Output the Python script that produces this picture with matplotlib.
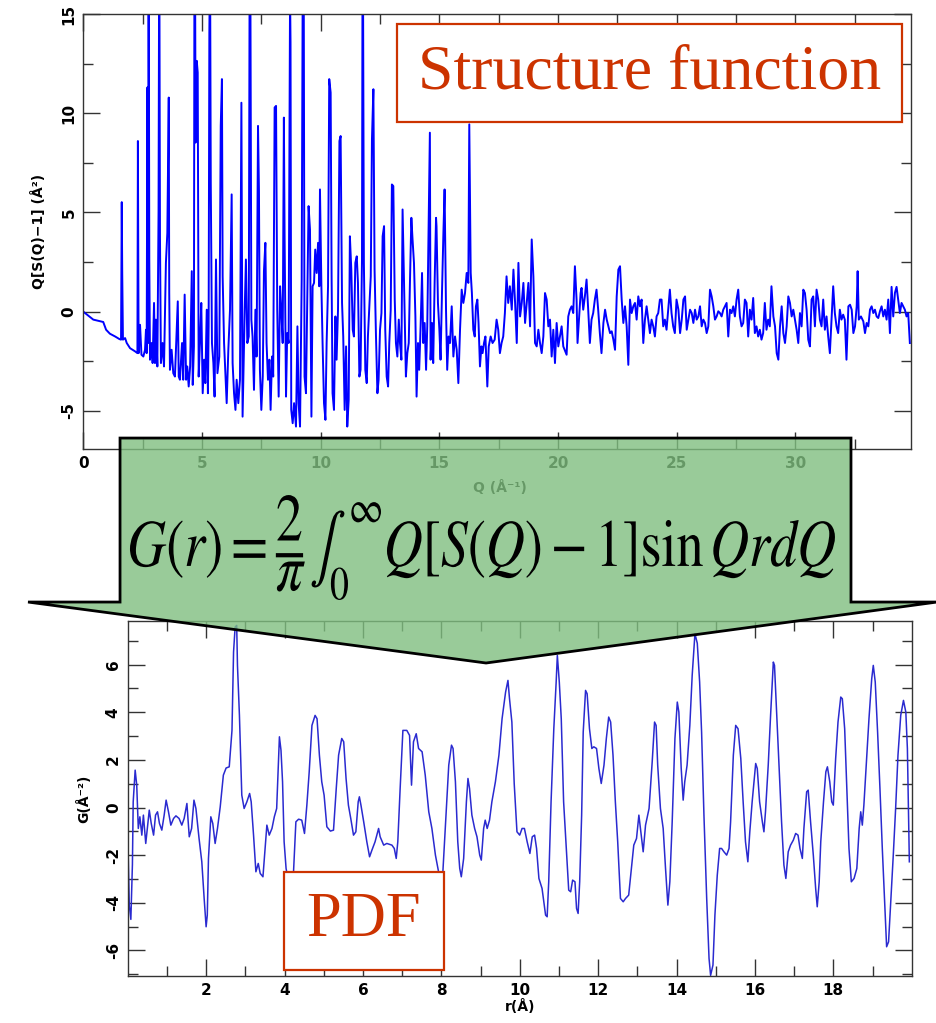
"""
Factor de estructura Q[S(Q)-1] y su transformada G(r)
"""

import numpy as np
import matplotlib.pyplot as plt
from matplotlib.patches import Polygon, Rectangle, PathPatch
from matplotlib.textpath import TextPath
from matplotlib.font_manager import FontProperties
from matplotlib.transforms import Affine2D

plt.rcParams['font.family'] = 'DejaVu Sans'
plt.rcParams['axes.unicode_minus'] = False
plt.rcParams['mathtext.fontset'] = 'stix'

# Q[S(Q)-1] (pares Q, valor); los picos de Bragg que salen de escala llevan valores > 15
sq_bragg = [(0.00, 0.00), (0.42, -0.40), (0.84, -0.52), (0.96, -0.91), (1.12, -1.11), (1.34, -1.25),
            (1.52, -1.38), (1.59, -1.41), (1.62, 5.52), (1.64, 1.95), (1.67, -1.41), (1.76, -1.33),
            (1.83, -1.58), (1.97, -1.84), (2.18, -2.00), (2.28, -2.09), (2.30, 8.60), (2.33, -2.09),
            (2.39, -0.66), (2.45, -2.17), (2.53, -2.26), (2.60, -1.92), (2.64, -0.91), (2.67, -2.09),
            (2.70, 11.30), (2.73, -1.58), (2.75, 22.0), (2.78, 2.63), (2.81, -2.42), (2.88, -1.58),
            (2.92, -2.59), (2.98, 0.44), (3.02, -2.59), (3.06, -0.40), (3.12, -2.76), (3.17, 5.07),
            (3.20, 20.0), (3.23, 3.80), (3.27, -2.59), (3.34, -1.58), (3.40, -2.76), (3.48, 2.46),
            (3.54, 3.97), (3.60, 10.79), (3.62, 0.94), (3.65, -2.93), (3.72, -1.92), (3.79, -3.10),
            (3.86, -3.27), (3.98, 0.52), (4.02, -3.27), (4.07, -3.43), (4.16, -1.58), (4.21, -3.43),
            (4.27, 0.86), (4.33, -3.43), (4.38, -2.76), (4.44, -3.77), (4.50, -2.76), (4.57, 2.04),
            (4.61, -3.69), (4.66, -1.75), (4.69, 25.0), (4.73, 8.52), (4.78, 12.64), (4.82, 12.05),
            (4.86, -3.27), (4.92, -1.41), (4.97, 0.44), (5.03, -4.11), (5.09, -2.42), (5.14, -3.60),
            (5.20, 0.10), (5.25, -4.11), (5.28, -0.74), (5.31, 14.07), (5.34, 18.0), (5.37, 6.50),
            (5.42, -1.58), (5.48, -2.59), (5.53, -4.28), (5.59, 2.63), (5.65, -3.10), (5.73, -2.26),
            (5.79, 9.36), (5.84, 11.72), (5.87, 1.78), (5.93, -1.58), (5.98, -2.93), (6.04, -4.61),
            (6.11, -1.92), (6.18, 0.10), (6.25, 5.91), (6.29, -2.59), (6.35, -4.11), (6.41, -4.95),
            (6.46, -3.43), (6.53, -4.61), (6.60, -3.43), (6.66, 10.53), (6.69, 0.10), (6.71, -5.29)]

sq_medio = [(6.80, 0.10), (6.85, 2.63), (6.91, -1.58), (6.97, -1.25), (7.02, 24.0), (7.08, -0.40),
            (7.13, -1.25), (7.19, -3.94), (7.25, 0.10), (7.30, -2.26), (7.36, 9.36), (7.40, 6.08),
            (7.44, -2.93), (7.50, -4.95), (7.56, -3.27), (7.61, 2.04), (7.67, 3.47), (7.72, -1.58),
            (7.78, -3.43), (7.84, -2.42), (7.89, -4.95), (7.95, -2.26), (8.00, -3.27), (8.06, 10.29),
            (8.12, 10.37), (8.17, 0.10), (8.23, -4.28), (8.29, 1.28), (8.34, 0.10), (8.40, -1.58),
            (8.45, 9.78), (8.48, 3.80), (8.54, -4.28), (8.59, -1.08), (8.65, -1.58), (8.71, 16.0),
            (8.73, 13.57), (8.76, -4.95), (8.82, -5.62), (8.88, -4.61), (8.96, -5.79), (9.02, -0.74),
            (9.07, -4.61), (9.13, -5.79), (9.20, 1.62), (9.27, 26.0), (9.32, -3.27), (9.38, -4.11),
            (9.44, 1.11), (9.49, 5.32), (9.55, 4.14), (9.61, -5.29), (9.66, 1.28), (9.72, 1.45),
            (9.77, 3.13), (9.83, 1.95), (9.89, 3.47), (9.94, 1.28), (9.97, 6.16), (10.03, 1.28),
            (10.08, -1.58), (10.14, -4.61), (10.20, -5.45), (10.25, -1.58), (10.31, 1.28), (10.36, 11.72),
            (10.42, 11.04), (10.46, 1.78), (10.50, -4.11), (10.56, -4.95), (10.62, -0.24), (10.67, -2.42),
            (10.73, 0.10), (10.79, 8.60), (10.84, 8.85), (10.90, 0.44), (10.95, -1.25), (11.01, -4.95),
            (11.07, -1.75), (11.12, -5.79), (11.18, -4.44), (11.23, 3.80), (11.29, 2.12), (11.35, -0.91),
            (11.40, -1.25), (11.46, 2.46), (11.52, 2.79), (11.57, 1.45), (11.63, -3.27), (11.68, -2.93),
            (11.74, 2.63), (11.77, 22.0), (11.82, 2.46), (11.88, -2.93), (11.94, -3.60), (11.99, -1.25),
            (12.05, 0.27), (12.11, 1.78), (12.16, 8.69), (12.22, 11.21), (12.27, 2.12), (12.33, -1.25),
            (12.39, -4.11), (12.44, -3.43), (12.50, -0.91), (12.56, -0.07), (12.61, 3.80), (12.67, 4.31),
            (12.72, -0.91), (12.78, -3.27), (12.84, -3.77), (12.89, -1.58), (12.95, 0.10), (13.00, 6.41),
            (13.06, 6.33), (13.12, 0.61), (13.17, -1.58), (13.23, -2.26), (13.29, -0.40), (13.34, -1.58),
            (13.40, -2.42), (13.45, 5.15), (13.51, 1.45)]

sq_alto = [(13.59, -3.27), (13.65, -2.09), (13.71, -1.58), (13.76, 1.45), (13.82, 4.73), (13.87, 3.64),
           (13.93, 2.46), (13.99, -0.24), (14.04, -4.28), (14.10, -1.58), (14.15, -2.93), (14.21, -0.74),
           (14.27, 1.95), (14.32, -1.58), (14.38, -0.57), (14.44, -2.93), (14.49, -0.74), (14.55, 4.48),
           (14.60, 9.02), (14.63, -2.42), (14.69, -0.57), (14.74, -2.59), (14.80, 1.45), (14.86, 4.73),
           (14.88, 4.31), (14.94, 0.44), (15.00, -0.91), (15.05, -2.42), (15.11, 0.94), (15.17, 3.97),
           (15.22, 6.16), (15.28, 0.10), (15.33, -2.93), (15.39, -1.25), (15.45, -1.58), (15.52, 0.27),
           (15.59, -2.26), (15.66, -1.25), (15.73, -1.92), (15.80, -3.60), (15.87, -0.91), (15.94, 1.11),
           (16.01, 0.44), (16.08, 0.94), (16.15, 1.95), (16.22, 1.45), (16.26, 9.44), (16.32, 1.95),
           (16.37, 0.94), (16.43, -0.91), (16.49, -1.25), (16.54, 0.27), (16.60, 0.61), (16.65, -0.57),
           (16.71, -2.76), (16.77, -1.75), (16.82, -2.09), (16.88, -1.58), (16.94, -1.25), (17.02, -3.77),
           (17.08, -1.75), (17.16, -1.25), (17.24, -1.58), (17.33, -1.41), (17.41, -0.40), (17.48, -0.91),
           (17.55, -2.09), (17.62, -1.58), (17.69, -1.25), (17.76, -0.07), (17.83, 1.78), (17.90, 0.44),
           (17.97, 1.28), (18.05, 0.10), (18.12, 2.12), (18.19, 0.44), (18.26, -1.58), (18.33, 2.46),
           (18.40, -0.24), (18.47, 0.44), (18.54, 1.45), (18.61, -0.57), (18.68, 0.44), (18.75, 1.45),
           (18.82, -0.74), (18.89, 3.64), (18.96, 1.78), (19.03, -1.58), (19.10, -1.75), (19.17, -0.91),
           (19.24, -1.58), (19.31, -2.09), (19.38, -1.25), (19.45, 0.94), (19.52, 0.61), (19.59, -0.74),
           (19.66, -0.40), (19.73, -2.26), (19.80, -0.91), (19.87, -2.59), (19.94, -0.57), (20.01, -1.75),
           (20.08, -1.25), (20.15, -0.74), (20.22, -1.75)]

sq_cola = [(20.36, -2.17), (20.43, -0.24), (20.50, 0.10), (20.57, 0.27), (20.64, -0.07), (20.71, 2.29),
           (20.78, 0.61), (20.82, -1.58), (20.88, -0.40), (20.95, 0.94), (20.99, 1.20), (21.06, 0.10),
           (21.13, 0.77), (21.20, 1.62), (21.27, 0.10), (21.34, -1.58), (21.41, -0.40), (21.48, -0.07),
           (21.55, 0.61), (21.62, 1.11), (21.69, 0.10), (21.76, -1.08), (21.83, -2.09), (21.91, -0.57),
           (21.98, 0.10), (22.05, -0.40), (22.12, -0.74), (22.19, -1.08), (22.26, -0.99), (22.33, -1.41),
           (22.40, -1.92), (22.47, 0.77), (22.54, 2.12), (22.61, 2.29), (22.68, 0.61), (22.75, -0.57),
           (22.82, 0.27), (22.89, -0.74), (22.96, -2.68), (23.03, 0.61), (23.10, -0.07), (23.17, 0.27),
           (23.24, 0.44), (23.31, -0.40), (23.38, 0.77), (23.45, 0.27), (23.52, 0.61), (23.59, -1.58),
           (23.66, -0.40), (23.73, 0.27), (23.80, -0.40), (23.87, -1.08), (23.94, -0.40), (24.01, -0.74),
           (24.08, -1.25), (24.15, -0.24), (24.22, -0.07), (24.29, 0.61), (24.36, 0.61), (24.43, -0.74),
           (24.50, -0.40), (24.57, -0.91), (24.64, 0.10), (24.71, 1.11), (24.78, -0.07), (24.85, -0.74),
           (24.92, -1.08), (24.99, 0.61), (25.07, 0.10), (25.14, -1.08), (25.21, -0.40), (25.28, 0.61),
           (25.35, 0.77), (25.42, -0.91), (25.49, -0.40), (25.56, 0.10), (25.63, -0.07), (25.70, -0.57),
           (25.77, 0.10), (25.84, -0.40), (25.91, -0.24), (25.98, 0.27), (26.05, -0.74), (26.12, -0.40),
           (26.19, -0.57), (26.26, -1.08), (26.33, -0.74), (26.40, 1.11), (26.47, 0.77), (26.54, 0.27),
           (26.61, -0.40), (26.68, -0.24), (26.75, 0.02), (26.82, -0.07), (26.89, -0.24), (26.96, 0.10),
           (27.03, 0.27), (27.10, 0.44), (27.17, -1.25), (27.24, 0.10), (27.31, -0.07), (27.38, 0.27),
           (27.45, -0.24), (27.52, 0.61), (27.59, 1.11), (27.66, -0.24), (27.73, -0.74), (27.80, -0.57),
           (27.87, 0.61), (27.94, 0.44), (28.01, -1.25), (28.08, 0.10), (28.15, -0.40), (28.22, 0.69),
           (28.29, -1.08), (28.36, -0.74), (28.43, -1.25), (28.50, -0.91), (28.57, -1.41), (28.64, -1.08),
           (28.71, 0.44), (28.78, -0.91), (28.85, -0.40), (28.92, -0.74), (28.99, 1.28), (29.07, -0.24),
           (29.14, -0.74), (29.21, -2.09), (29.28, -2.42), (29.35, -0.74), (29.42, 0.27), (29.49, -1.08),
           (29.56, -1.58), (29.63, -0.74), (29.70, 0.77), (29.77, 0.44), (29.84, -0.24), (29.91, 0.10),
           (29.98, -0.40), (30.05, -0.91), (30.12, -1.58), (30.19, -0.07), (30.26, -0.74), (30.33, 1.11),
           (30.40, 0.94), (30.47, 0.10), (30.54, -1.41), (30.61, -1.75), (30.68, 0.61), (30.75, 0.77),
           (30.82, -0.74), (30.89, 1.11), (30.96, 0.61), (31.03, -0.40), (31.10, -0.74), (31.17, 0.61),
           (31.24, -0.91), (31.31, -0.24), (31.38, -1.25), (31.45, -2.09), (31.52, -0.40), (31.59, 1.28),
           (31.66, -0.07), (31.73, -0.74), (31.80, -1.08), (31.87, 0.10), (31.94, -0.40), (32.01, -0.15),
           (32.08, -0.40), (32.15, -2.42), (32.23, 0.27), (32.30, 0.35), (32.37, 0.10), (32.44, -1.08),
           (32.51, -0.74), (32.58, 0.27), (32.62, 2.04), (32.67, -0.40), (32.76, -0.24), (32.86, -0.49),
           (32.93, -1.08), (33.00, -0.57), (33.07, -0.74), (33.14, 0.10), (33.21, 0.27), (33.28, -0.07),
           (33.35, 0.10), (33.42, -0.24), (33.49, -0.32), (33.56, 0.02), (33.63, 0.27), (33.70, -0.24),
           (33.77, 0.10), (33.84, -0.40), (33.91, 0.61), (33.98, -1.08), (34.05, 1.25), (34.12, -0.24),
           (34.19, 0.94), (34.26, 1.25), (34.33, 0.61), (34.40, -0.07), (34.47, 0.44), (34.54, 0.27),
           (34.61, 0.10), (34.68, -0.24), (34.75, -0.07), (34.82, -1.58)]

# G(r) (pares r, valor)
gr_corto = [(0.00, -1.02), (0.04, -4.10), (0.08, -4.70), (0.12, -2.40), (0.14, 0.24), (0.19, 1.57),
            (0.23, 0.94), (0.27, -0.88), (0.31, -0.39), (0.36, -1.16), (0.40, -0.32), (0.46, -1.51),
            (0.50, -0.88), (0.55, -0.11), (0.60, -0.67), (0.66, -1.16), (0.71, -0.32), (0.76, -0.18),
            (0.81, -0.67), (0.87, -0.95), (0.93, -0.32), (0.98, 0.31), (1.04, -0.18), (1.10, -0.74),
            (1.17, -0.46), (1.23, -0.35), (1.31, -0.46), (1.38, -0.74), (1.44, -0.46), (1.51, 0.17),
            (1.57, -1.23), (1.63, -0.88), (1.69, 0.31), (1.74, -0.04), (1.82, -1.30), (1.89, -2.28),
            (1.95, -3.82), (2.00, -5.01), (2.03, -4.52), (2.06, -2.14), (2.12, -0.39), (2.17, -0.67),
            (2.23, -1.51), (2.29, -0.88), (2.36, 0.03), (2.44, 1.36), (2.51, 1.66), (2.59, 1.71),
            (2.66, 3.24), (2.70, 6.53), (2.74, 7.58), (2.78, 7.65), (2.80, 5.97), (2.85, 3.87),
            (2.91, 0.52), (2.97, -0.04), (3.04, 0.24), (3.11, 0.59), (3.15, 0.24), (3.21, -1.16),
            (3.27, -2.70), (3.33, -2.35), (3.38, -2.77), (3.45, -2.91), (3.51, -1.58), (3.55, -0.74),
            (3.61, -1.16), (3.68, -0.88), (3.74, -0.39), (3.80, -0.04), (3.87, 2.97), (3.91, 2.41),
            (3.95, 1.08), (3.99, -1.44), (4.04, -2.56), (4.12, -3.30), (4.23, -2.70), (4.29, -0.60),
            (4.36, -0.49), (4.44, -0.53), (4.51, -1.09), (4.57, 0.10), (4.63, 1.50), (4.70, 3.45),
            (4.78, 3.87), (4.83, 3.73), (4.89, 2.20), (4.95, 1.08)]

gr_medio = [(5.01, 0.52), (5.08, -0.81), (5.17, -0.99), (5.25, -0.95), (5.32, 0.80), (5.38, 2.20),
            (5.46, 2.90), (5.51, 2.76), (5.57, 1.22), (5.63, 0.10), (5.69, -0.46), (5.76, -1.16),
            (5.82, -1.02), (5.88, 0.24), (5.91, 0.45), (5.95, 0.10), (6.02, -0.60), (6.10, -1.44),
            (6.17, -2.07), (6.23, -1.79), (6.31, -1.44), (6.40, -0.88), (6.44, -1.23), (6.53, -1.58),
            (6.61, -1.51), (6.74, -1.58), (6.80, -1.72), (6.85, -2.14), (6.89, -1.44), (6.95, 0.80),
            (7.02, 3.24), (7.12, 3.24), (7.19, 3.03), (7.24, 0.94), (7.29, 2.76), (7.36, 3.10),
            (7.42, 2.48), (7.51, 2.34), (7.59, 1.36), (7.68, -0.18), (7.76, -0.88), (7.85, -2.00),
            (7.93, -2.70), (8.00, -3.40), (8.04, -2.70), (8.10, -0.88), (8.19, 1.78), (8.26, 2.62),
            (8.30, 2.48), (8.36, 1.08), (8.42, -1.44), (8.47, -2.56), (8.51, -2.91), (8.57, -2.14),
            (8.64, 0.24), (8.68, 1.22), (8.72, 0.80), (8.78, -0.32), (8.85, -0.88), (8.91, -1.23),
            (8.98, -2.00), (9.02, -2.21), (9.08, -0.88), (9.12, -0.53), (9.17, -0.88), (9.23, -0.53),
            (9.29, 0.24), (9.38, 1.08), (9.47, 2.20), (9.55, 3.73), (9.64, 4.85), (9.70, 5.34),
            (9.74, 4.57), (9.80, 3.59), (9.86, 1.00), (9.93, -1.02)]

gr_largo = [(10.00, -1.16), (10.06, -0.88), (10.12, -0.88), (10.19, -1.44), (10.26, -1.93), (10.32, -1.23),
            (10.38, -1.16), (10.43, -1.72), (10.49, -2.98), (10.57, -3.40), (10.66, -4.52), (10.70, -4.59),
            (10.74, -3.12), (10.80, 0.24), (10.87, 3.31), (10.93, 5.27), (10.96, 6.39), (11.01, 5.27),
            (11.06, 3.73), (11.12, 0.24), (11.19, -1.72), (11.25, -3.47), (11.30, -3.54), (11.35, -3.05),
            (11.41, -3.12), (11.45, -4.24), (11.49, -4.45), (11.53, -3.12), (11.58, -0.32), (11.62, 3.17),
            (11.68, 4.92), (11.72, 4.78), (11.78, 3.31), (11.84, 2.48), (11.89, 2.55), (11.96, 2.48),
            (12.02, 1.64), (12.08, 1.01), (12.15, 1.78), (12.21, 2.90), (12.27, 3.80), (12.32, 3.59),
            (12.38, 2.20), (12.44, 0.24), (12.50, -1.44), (12.57, -3.82), (12.64, -3.96), (12.70, -3.82),
            (12.78, -3.68), (12.84, -2.70), (12.91, -1.58), (12.98, -1.30), (13.04, -0.32), (13.08, -0.88),
            (13.15, -1.86), (13.21, -0.74), (13.30, -0.04), (13.38, 1.92), (13.44, 3.59), (13.48, 3.45),
            (13.52, 1.78), (13.59, -0.04), (13.66, -0.88), (13.72, -2.56), (13.78, -4.10), (13.83, -3.12),
            (13.89, -0.60), (13.96, 2.90), (14.02, 4.43), (14.06, 4.01), (14.12, 1.64), (14.17, 0.31),
            (14.21, 1.08), (14.27, 1.78), (14.34, 3.45), (14.40, 5.55), (14.47, 7.30), (14.53, 6.90),
            (14.59, 5.27), (14.64, 3.17), (14.70, -0.32), (14.77, -3.82), (14.83, -6.34), (14.87, -7.05),
            (14.93, -6.62), (14.98, -4.52)]

gr_final = [(15.04, -2.84), (15.10, -1.72), (15.15, -1.72), (15.21, -1.86), (15.28, -2.00), (15.34, -1.72),
            (15.38, -0.60), (15.45, 2.20), (15.51, 3.45), (15.57, 3.31), (15.64, 2.06), (15.70, 0.24),
            (15.76, -1.44), (15.82, -2.28), (15.87, -1.02), (15.93, 0.24), (16.02, 1.85), (16.06, 1.64),
            (16.12, 0.24), (16.19, -0.60), (16.23, -1.02), (16.27, -0.18), (16.34, 1.78), (16.40, 3.87),
            (16.47, 6.11), (16.50, 5.97), (16.55, 4.15), (16.61, 1.92), (16.68, -0.60), (16.74, -2.42),
            (16.79, -2.98), (16.85, -1.86), (16.91, -1.58), (16.98, -1.37), (17.04, -1.09), (17.10, -1.16),
            (17.15, -1.72), (17.21, -2.14), (17.25, -0.88), (17.32, 0.66), (17.36, 0.73), (17.42, -0.60),
            (17.49, -2.00), (17.55, -3.40), (17.59, -4.17), (17.64, -3.12), (17.68, -1.44), (17.75, 0.24),
            (17.81, 1.50), (17.85, 1.71), (17.91, 1.08), (17.96, 0.24), (18.00, 0.10), (18.06, 2.06),
            (18.12, 3.59), (18.19, 4.64), (18.23, 4.57), (18.29, 3.31), (18.34, 1.08), (18.40, -1.72),
            (18.46, -3.12), (18.53, -2.98), (18.60, -2.56), (18.66, -0.88), (18.70, -0.18), (18.74, -0.74),
            (18.78, 0.10), (18.84, 1.78), (18.91, 3.73), (18.98, 5.41), (19.02, 5.97), (19.07, 5.27),
            (19.13, 3.17), (19.19, 0.80), (19.25, -1.72), (19.31, -3.96), (19.36, -5.85), (19.41, -5.64),
            (19.47, -3.82), (19.53, -2.00), (19.59, -0.04), (19.65, 2.20), (19.72, 3.87), (19.79, 4.50),
            (19.85, 4.01), (19.89, 2.48), (19.94, -2.28)]

q_ticks = [0, 5, 10, 15, 20, 25, 30]
sq_ticks = [-5, 0, 5, 10, 15]
r_ticks = [2, 4, 6, 8, 10, 12, 14, 16, 18]
g_ticks = [-6, -4, -2, 0, 2, 4, 6]

AZUL = '#0000ff'
AZUL_PDF = '#2a2ad0'
ROJO = '#cc3300'
VERDE = (0.50, 0.75, 0.50, 0.80)
MARCO = '#333333'


def estilo_ejes(ax, xt, yt, mayor, menor):
    """Ticks hacia dentro en los cuatro lados, etiquetas en negrita"""
    ax.set_xticks(xt, labels=[str(t) for t in xt], fontweight='bold')
    ax.set_yticks(yt, labels=[str(t) for t in yt], fontweight='bold',
                  rotation=90, va='center')
    ax.tick_params(which='both', direction='in', top=True, right=True,
                   color=MARCO, width=1.0, labelsize=11)
    ax.tick_params(which='major', length=mayor, pad=5)
    ax.tick_params(which='minor', length=menor)
    for lado in ax.spines.values():
        lado.set_color(MARCO)
        lado.set_linewidth(1.0)


fig = plt.figure(figsize=(9.37, 10.23), dpi=100)

# --- Panel superior: Q[S(Q)-1] ---
sq = np.array(sq_bragg + sq_medio + sq_alto + sq_cola)
ax1 = fig.add_axes([0.0889, 0.5611, 0.8834, 0.4252])
ax1.plot(sq[:, 0], sq[:, 1], color=AZUL, linewidth=1.4)
ax1.set_xlim(0, 34.87)
ax1.set_ylim(-6.92, 15)
ax1.set_xticks(np.arange(2.5, 35, 5), minor=True)
ax1.set_yticks([-2.5, 2.5, 7.5, 12.5], minor=True)
estilo_ejes(ax1, q_ticks, sq_ticks, 12, 7)
ax1.set_xlabel('Q (Å⁻¹)', fontsize=10, fontweight='bold')
ax1.xaxis.set_label_coords(0.503, -0.072)
ax1.set_ylabel('Q[S(Q)−1] (Å²)', fontsize=10, fontweight='bold')
ax1.yaxis.set_label_coords(-0.045, 0.5)

# --- Panel inferior: G(r) ---
gr = np.array(gr_corto + gr_medio + gr_largo + gr_final)
ax2 = fig.add_axes([0.1363, 0.0459, 0.8367, 0.3474])
ax2.plot(gr[:, 0], gr[:, 1], color=AZUL_PDF, linewidth=1.1)
ax2.set_xlim(0, 20)
ax2.set_ylim(-7.08, 7.85)
ax2.set_xticks(np.arange(1, 20, 2), minor=True)
ax2.set_yticks(np.arange(-7, 8, 2), minor=True)
estilo_ejes(ax2, r_ticks, g_ticks, 12, 7)
ax2.set_xlabel('r(Å)', fontsize=10, fontweight='bold')
ax2.xaxis.set_label_coords(0.50, -0.065)
ax2.set_ylabel('G(Å⁻²)', fontsize=10, fontweight='bold')
ax2.yaxis.set_label_coords(-0.047, 0.5)

# Flecha verde con la transformada
flecha = Polygon([(0.1281, 0.5718), (0.9082, 0.5718), (0.9082, 0.4115), (1.0, 0.4115),
                  (0.5187, 0.3519), (0.0299, 0.4115), (0.1281, 0.4115)],
                 closed=True, transform=fig.transFigure, facecolor=VERDE,
                 edgecolor='black', linewidth=2.0, zorder=2)
fig.patches.append(flecha)

# Fórmula como trayecto, escalada para llenar su hueco dentro de la flecha
formula = TextPath((0, 0), r'$G(r)=\dfrac{2}{\pi}\int_0^{\infty}Q[S(Q)-1]\sin QrdQ$',
                   size=40, prop=FontProperties(family='DejaVu Sans', weight='normal'))
ext = formula.get_extents()
fx0, fx1, fy0, fy1 = 0.1387, 0.8911, 0.4135, 0.5161
ajuste = (Affine2D().translate(-ext.x0, -ext.y0)
          .scale((fx1 - fx0) / ext.width, (fy1 - fy0) / ext.height)
          .translate(fx0, fy0))
fig.patches.append(PathPatch(formula, transform=ajuste + fig.transFigure,
                             facecolor='black', edgecolor='none', zorder=5))

# Recuadros de texto
for x0, y0, w, h in [(0.4237, 0.8807, 0.5390, 0.0958), (0.3031, 0.0518, 0.1708, 0.0958)]:
    caja = Rectangle((x0, y0), w, h, transform=fig.transFigure, facecolor='white',
                     edgecolor=ROJO, linewidth=1.6, zorder=3)
    fig.patches.append(caja)
fig.text(0.693, 0.9286, 'Structure function', fontsize=46, color=ROJO,
         family='Liberation Serif', ha='center', va='center', zorder=5)
fig.text(0.3885, 0.0997, 'PDF', fontsize=45, color=ROJO,
         family='Liberation Serif', ha='center', va='center', zorder=5)

fig.savefig('out.png', dpi=100)
